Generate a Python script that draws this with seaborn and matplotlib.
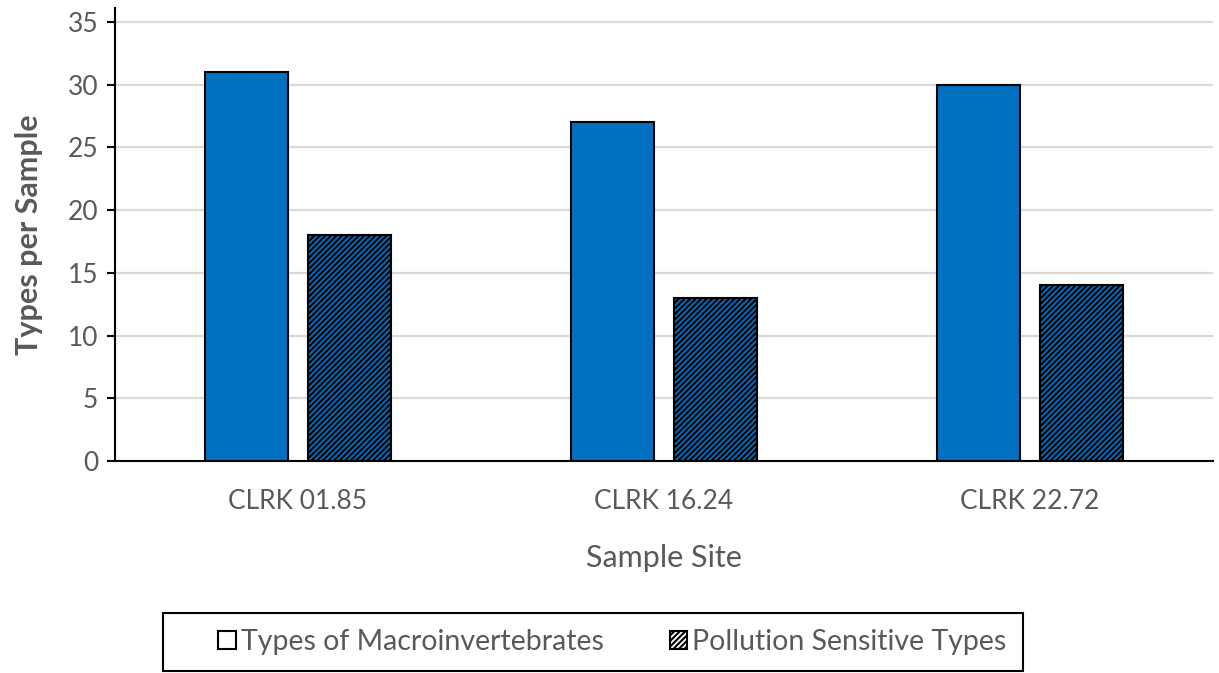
# Macroinvertebrate types per sample site

import matplotlib
matplotlib.use("Agg")
import matplotlib.pyplot as plt
from matplotlib.patches import Patch, Rectangle
import seaborn as sns
import pandas as pd

# Data
sites = ['CLRK 01.85', 'CLRK 16.24', 'CLRK 22.72']
series = ['Types of Macroinvertebrates', 'Pollution Sensitive Types']
total_types = [31, 27, 30]
sensitive_types = [18, 13, 14]
y_ticks = [0, 5, 10, 15, 20, 25, 30, 35]

df = pd.DataFrame({
    'Site': sites * 2,
    'Series': [series[0]] * 3 + [series[1]] * 3,
    'Count': total_types + sensitive_types,
})

sns.set_style("white")
plt.rcParams['font.family'] = ['Lato', 'DejaVu Sans']
plt.rcParams['hatch.linewidth'] = 1.5
grey = '#595959'

fig = plt.figure(figsize=(12.19, 6.73), dpi=100)
ax = fig.add_axes([0.0943, 0.315, 0.9007, 0.673])

sns.barplot(data=df, x='Site', y='Count', hue='Series', hue_order=series,
            palette=['#0070C0', '#0070C0'], saturation=1, width=0.563, gap=0.19,
            edgecolor='black', linewidth=1.5, legend=False, ax=ax, zorder=3)

# hatch the second series
for bar in ax.containers[1]:
    bar.set_hatch('//////')

ax.set_ylim(0, 36.1)
ax.set_xlim(-0.5, 2.5)
ax.set_yticks(y_ticks)
ax.yaxis.grid(True, color='#D9D9D9', linewidth=1.6, zorder=0)
ax.set_axisbelow(True)

for side in ['top', 'right']:
    ax.spines[side].set_visible(False)
for side in ['left', 'bottom']:
    ax.spines[side].set_color('black')
    ax.spines[side].set_linewidth(1.5)

# category boundary ticks on the x axis
ax.set_xticks([-0.5, 0.5, 1.5, 2.5], minor=True)
ax.tick_params(axis='x', which='minor', direction='out', length=6, width=1.5, color='black')
ax.tick_params(axis='x', which='major', length=0, pad=20, labelsize=19, labelcolor=grey)
ax.tick_params(axis='y', direction='out', length=6, width=1.5, color='black',
               labelsize=19, labelcolor=grey, pad=6, left=True)

ax.set_xlabel('Sample Site', fontsize=22, color=grey, labelpad=22)
ax.set_ylabel('Types per Sample', fontsize=22, color=grey, fontweight='bold', labelpad=18)

# legend: items plus a separate frame like the original
handles = [Patch(facecolor='white', edgecolor='black', linewidth=1.5),
           Patch(facecolor='white', edgecolor='black', linewidth=1.5, hatch='//////')]
fig.legend(handles, series, loc='center', bbox_to_anchor=(0.5025, 0.046),
           ncol=2, frameon=False, fontsize=20.5,
           handlelength=0.6, handleheight=0.6, handletextpad=0.2,
           columnspacing=2.3, labelcolor=grey)
fig.add_artist(Rectangle((0.1337, 0.003), 0.7055, 0.086, transform=fig.transFigure,
                         facecolor='none', edgecolor='black', linewidth=1.5))

fig.savefig('out.png', dpi=100)
